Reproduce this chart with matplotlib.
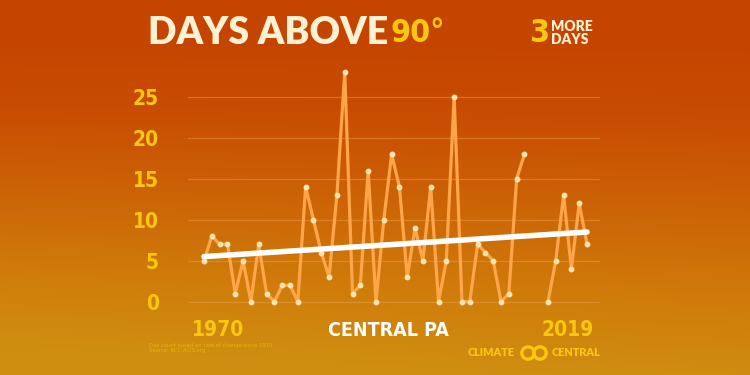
import numpy as np
import matplotlib.pyplot as plt
from matplotlib.colors import LinearSegmentedColormap
from matplotlib.patches import Circle

# Days above 90F, Central PA (NaN = no data)
years = np.arange(1970, 2020)
days = [5, 8, 7, 7, 1, 5, 0, 7, 1, 0,
        2, 2, 0, 14, 10, 6, 3, 13, 28, 1,
        2, 16, 0, 10, 18, 14, 3, 9, 5, 14,
        0, 5, 25, 0, 0, 7, 6, 5, 0, 1,
        15, 18, np.nan, np.nan, 0, 5, 13, 4, 12, 7]
trend_years = [1970, 2019]
trend_vals = [5.5, 8.5]
yticks = [0, 5, 10, 15, 20, 25]

cream = '#fdf1d2'
yellow = '#f9c80e'
line_col = '#ffa54a'
cond = dict(family='DejaVu Sans', fontweight='bold', fontstretch='condensed')
geo = dict(family=['Lato', 'DejaVu Sans'], fontweight='heavy')

fig = plt.figure(figsize=(7.5, 3.75), dpi=100)

# background gradient
bg = fig.add_axes([0, 0, 1, 1])
yy, xx = np.mgrid[0:1:200j, 0:1:400j]
t = np.clip(yy * 1.05 + 0.12 * (1 - xx) * yy - 0.08, 0, 1)
cmap = LinearSegmentedColormap.from_list(
    'bg', ['#c54400', '#c84c02', '#cc6206', '#cf7a0a', '#d08e10'])
bg.imshow(t, cmap=cmap, aspect='auto', extent=[0, 1, 0, 1], origin='upper')
bg.set_axis_off()

ax = fig.add_axes([188 / 750, 1 - 320 / 375, 412 / 750, 260 / 375])
ax.patch.set_alpha(0)
ax.plot(years, days, color=line_col, lw=2.3, marker='o', ms=3.2,
        mfc='#ffe6b0', mec='#ffe6b0', zorder=3)
ax.plot(trend_years, trend_vals, color='white', lw=4, solid_capstyle='round', zorder=4)
ax.set_xlim(1967.95, 2020.66)
ax.set_ylim(-2.23, 29.48)
ax.set_yticks(yticks)
ax.set_xticks([])
ax.grid(axis='y', color='#f0a050', alpha=0.45, lw=0.9)
for s in ax.spines.values():
    s.set_visible(False)
ax.tick_params(axis='y', length=0, pad=21, labelcolor=yellow)
for lab in ax.get_yticklabels():
    lab.set_fontfamily('DejaVu Sans')
    lab.set_fontweight('bold')
    lab.set_fontstretch('condensed')
    lab.set_fontsize(15)

# titles
fig.text(148 / 750, 1 - 33 / 375, 'DAYS ABOVE', color=cream, fontsize=27,
         va='center', ha='left', **geo)
fig.text(391 / 750, 1 - 33 / 375, '90°', color=yellow, fontsize=23,
         va='center', ha='left', **cond)
fig.text(549 / 750, 1 - 33 / 375, '3', color=yellow, fontsize=23,
         va='center', ha='right', **cond)
fig.text(551 / 750, 1 - 33 / 375, 'MORE\nDAYS', color=cream, fontsize=10,
         va='center', ha='left', linespacing=0.95, **geo)

# bottom labels
fig.text(218 / 750, 1 - 330 / 375, '1970', color=yellow, fontsize=15,
         va='center', ha='center', **cond)
fig.text(568 / 750, 1 - 330 / 375, '2019', color=yellow, fontsize=15,
         va='center', ha='center', **cond)
fig.text(388 / 750, 1 - 330 / 375, 'CENTRAL PA', color='white', fontsize=14,
         va='center', ha='center', **cond)
fig.text(149 / 750, 1 - 348 / 375,
         'Day count based on rate of change since 1970\nSource: RCC-ACIS.org',
         color=yellow, alpha=0.6, fontsize=3.8, va='center', ha='left', linespacing=1.2)

# Climate Central logo
fig.text(515 / 750, 1 - 353 / 375, 'CLIMATE', color=yellow, fontsize=7.8,
         va='center', ha='right', **geo)
fig.text(552 / 750, 1 - 353 / 375, 'CENTRAL', color=yellow, fontsize=7.8,
         va='center', ha='left', **geo)
for cx in (528, 540):
    fig.patches.append(Circle((cx / 100, (375 - 353) / 100), 0.062,
                              transform=fig.dpi_scale_trans, figure=fig,
                              fill=False, ec=yellow, lw=2.4))

fig.savefig('out.png', dpi=100)
